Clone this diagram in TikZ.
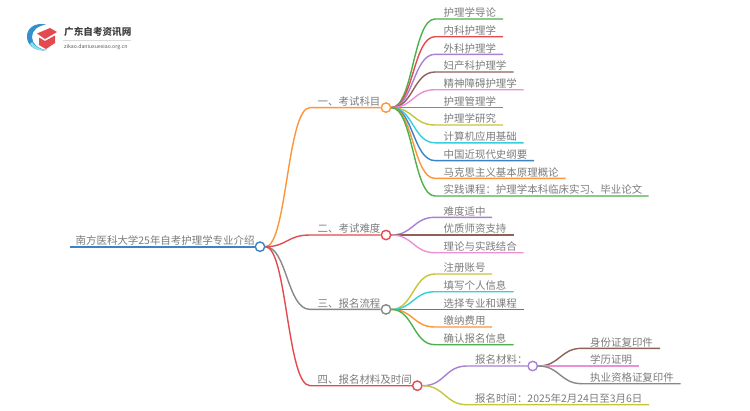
\documentclass[tikz,border=0pt]{standalone}
\usepackage{fontspec}
\setmainfont{Noto Sans CJK SC}
\usetikzlibrary{calc}
\definecolor{cgreen}{HTML}{4DB04A}
\definecolor{cred}{HTML}{E34A4F}
\definecolor{cpurple}{HTML}{A681D4}
\definecolor{cbrown}{HTML}{8F6158}
\definecolor{cpink}{HTML}{EE8FD6}
\definecolor{cgray}{HTML}{888888}
\definecolor{colive}{HTML}{C8C43C}
\definecolor{ccyan}{HTML}{35CFE0}
\definecolor{cblue}{HTML}{3A84C4}
\definecolor{corange}{HTML}{FF9538}
\definecolor{ctext}{HTML}{7C7C7C}
\tikzset{
  hubdot/.style={circle,draw=#1,fill=white,line width=1.4pt,inner sep=0pt,minimum size=9.4pt},
  branch/.style={draw=#1,line width=1.4pt},
  label/.style={anchor=base west,inner sep=0pt,text=ctext,font=\fontsize{10.45}{12}\selectfont},
  logotitle/.style={anchor=base west,inner sep=0pt,text=black!75,font=\fontsize{9.6}{11}\selectfont\bfseries},
  logosub/.style={anchor=base west,inner sep=0pt,text=black!65,font=\fontsize{5.2}{6}\selectfont}
}
% #1 name, #2 colour, #3 parent hub, #4 curve end x, #5 text x, #6 y, #7 line end x, #8 text
\newcommand{\branchto}[8]{%
  \coordinate (#1a) at (#4,#6);
  \coordinate (#1b) at (#7,#6);
  \node[label] (#1) at (#5,#6-2.3) {#8};
  \draw[branch=#2] (#3.east) .. controls ($(#3.east)!.5!(#3.east -| #1a)$) and ($(#1a)!.5!(#1a -| #3.east)$) .. (#1a) -- (#1b);
}
\begin{document}
\begin{tikzpicture}[x=1pt,y=-1pt]
\useasboundingbox (0,0) rectangle (750,410);
\fill[white] (0,0) rectangle (750,410);
% logo
\fill[cblue!90!cyan] (46,24.5) .. controls (34,22) and (26,29) .. (27,38) .. controls (28,46) and (36,52) .. (47,50) .. controls (38,49) and (32,44) .. (32,37) .. controls (32,30) and (38,26) .. (46,24.5) -- cycle;
\fill[ccyan!60] (30,44) .. controls (33,49) and (40,52) .. (47,50) .. controls (40,49.5) and (35,47) .. (32,42) -- cycle;
\fill[cred] (37,33.5) -- (50,28) -- (57,32) -- (45,39) -- cycle;
\fill[cred] (39,37.5) -- (45,41) -- (55,35.5) -- (55,43) -- (46,49) -- (39,45) -- cycle;
\node[logotitle] (logotitle) at (64,35) {广东自考资讯网};
\draw[black!15,line width=.5pt] (63,40) -- (131,40);
\node[logosub] (logosub) at (64,48) {zikao.daniuxuexiao.org.cn};
% hubs
\node[hubdot=cblue] (root) at (260,246.7) {};
\node[hubdot=corange] (h1) at (386,107.6) {};
\node[hubdot=cred] (h2) at (386,235) {};
\node[hubdot=cgray] (h3) at (386,309.4) {};
\node[hubdot=cred] (h4) at (417.3,385.7) {};
\node[hubdot=cpurple] (h5) at (532.7,366) {};
% root
\coordinate (rootstart) at (70,246.7);
\node[label] (roottext) at (75.5,244.4) {南方医科大学25年自考护理学专业介绍};
\draw[branch=cblue,line width=1.6pt] (rootstart) -- (root.west);
% first level
\foreach \n/\c/\y/\t in {a/corange/107.6/一、考试科目,b/cred/235/二、考试难度,c/cgray/309.4/三、报名流程}{
  \coordinate (\n a) at (310,\y);
  \node[label] (\n) at (317.5,\y-2.3) {\t};
}
\node[label] (d) at (317.5,383.4) {四、报名材料及时间};
\coordinate (da) at (310,385.7);
\draw[branch=corange] (root.east) .. controls (287,246.7) and (287,107.6) .. (aa) -- (h1.west);
\draw[branch=cred] (root.east) .. controls (287,246.7) and (287,235) .. (ba) -- (h2.west);
\draw[branch=cgray] (root.east) .. controls (287,246.7) and (287,309.4) .. (ca) -- (h3.west);
\draw[branch=cred] (root.east) .. controls (287,246.7) and (287,385.7) .. (da) -- (h4.west);
% subjects
\branchto{s1}{cgreen}{h1}{435}{443.5}{19}{503}{护理学导论}
\branchto{s2}{cred}{h1}{435}{443.5}{36.7}{503}{内科护理学}
\branchto{s3}{cpurple}{h1}{435}{443.5}{54.3}{503}{外科护理学}
\branchto{s4}{cbrown}{h1}{435}{443.5}{72}{513.5}{妇产科护理学}
\branchto{s5}{cpink}{h1}{435}{443.5}{89.7}{523.5}{精神障碍护理学}
\branchto{s6}{cgray}{h1}{435}{443.5}{107.6}{503}{护理管理学}
\branchto{s7}{colive}{h1}{435}{443.5}{125}{503}{护理学研究}
\branchto{s8}{ccyan}{h1}{435}{443.5}{142.8}{523.5}{计算机应用基础}
\branchto{s9}{cblue}{h1}{435}{443.5}{160.6}{534}{中国近现代史纲要}
\branchto{s10}{corange}{h1}{435}{443.5}{178.4}{565.7}{马克思主义基本原理概论}
\branchto{s11}{cgreen}{h1}{435}{443.5}{196}{648.7}{实践课程：护理学本科临床实习、毕业论文}
% difficulty
\branchto{t1}{cpurple}{h2}{435}{443.5}{217.3}{492}{难度适中}
\branchto{t2}{cbrown}{h2}{435}{443.5}{235}{513.5}{优质师资支持}
\branchto{t3}{cpink}{h2}{435}{443.5}{252.7}{523.5}{理论与实践结合}
% procedure
\branchto{u1}{colive}{h3}{435}{443.5}{274}{492}{注册账号}
\branchto{u2}{ccyan}{h3}{435}{443.5}{291.7}{513.5}{填写个人信息}
\branchto{u3}{cblue}{h3}{435}{443.5}{309.4}{523.5}{选择专业和课程}
\branchto{u4}{corange}{h3}{435}{443.5}{327}{492}{缴纳费用}
\branchto{u5}{cgreen}{h3}{435}{443.5}{344.7}{513.5}{确认报名信息}
% materials and time
\coordinate (v1a) at (467,366);
\node[label] (v1) at (475,363.7) {报名材料：};
\draw[branch=cpurple] (h4.east) .. controls ($(h4.east)!.5!(h4.east -| v1a)$) and ($(v1a)!.5!(v1a -| h4.east)$) .. (v1a) -- (h5.west);
\branchto{v2}{colive}{h4}{467}{475}{404.7}{649}{报名时间：2025年2月24日至3月6日}
\branchto{w1}{cbrown}{h5}{582}{590}{348.3}{660}{身份证复印件}
\branchto{w2}{cpink}{h5}{582}{590}{366}{638.7}{学历证明}
\branchto{w3}{cgray}{h5}{582}{590}{383.7}{680.7}{执业资格证复印件}
\end{tikzpicture}
\end{document}
